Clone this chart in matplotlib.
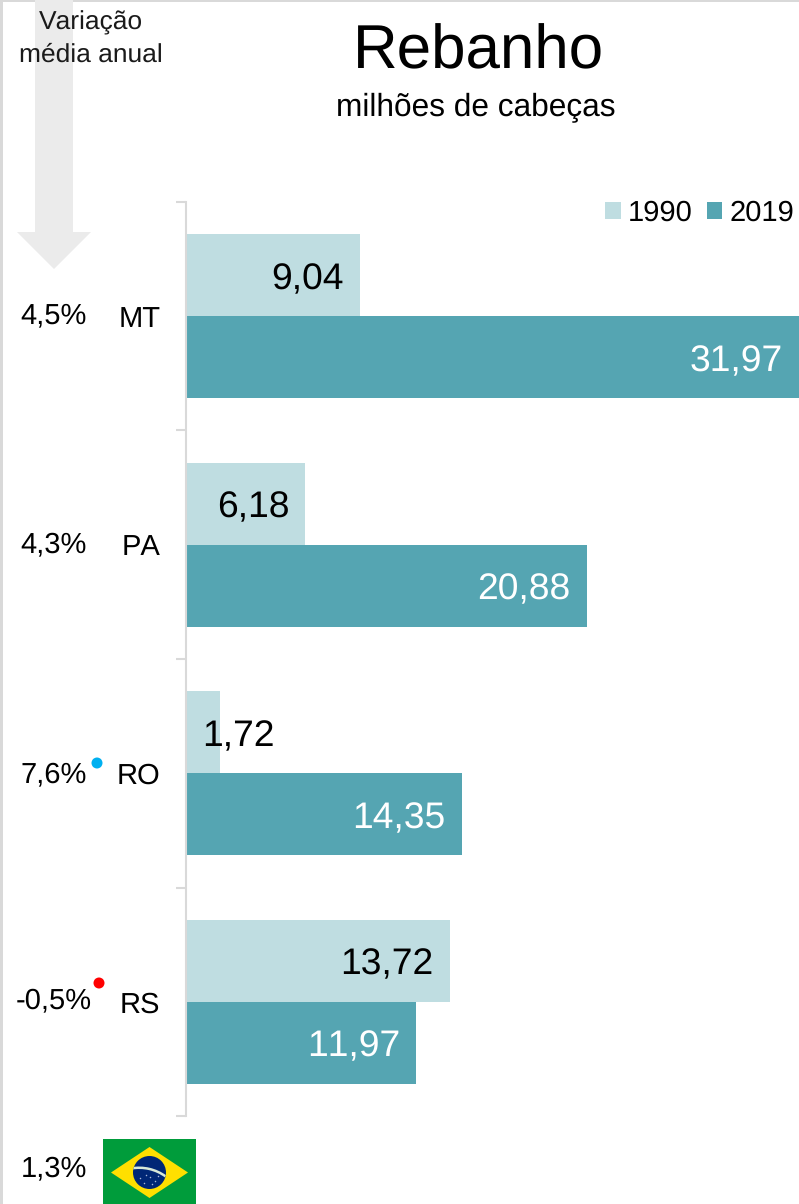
import numpy as np
import matplotlib
matplotlib.use('Agg')
import matplotlib.pyplot as plt
from matplotlib.patches import Circle, Polygon, Rectangle, Wedge

plt.rcParams['font.family'] = ['Liberation Sans', 'DejaVu Sans']
plt.rcParams['text.kerning_factor'] = 16   # sem kerning, como no original
plt.rcParams['text.hinting'] = 'no_hinting'

W, H = 799, 1204

states = ['MT', 'PA', 'RO', 'RS']
v1990 = [9.04, 6.18, 1.72, 13.72]
v2019 = [31.97, 20.88, 14.35, 11.97]
growth = ['4,5%', '4,3%', '7,6%', '-0,5%']
growth_y = [316, 545, 775, 1001]
brasil = '1,3%'
years = ['1990', '2019']

c1990 = '#BFDDE1'
c2019 = '#55A5B2'
cgrey = '#D9D9D9'
carrow = '#EBEBEB'


def br(x):
    return ('%.2f' % x).replace('.', ',')


fig = plt.figure(figsize=(W / 100, H / 100), dpi=100)

# camada em pixels para tudo que fica fora do grafico
bg = fig.add_axes([0, 0, 1, 1])
bg.set_xlim(0, W)
bg.set_ylim(H, 0)
bg.axis('off')
bg.add_patch(Rectangle((0, 0), 3, H, color=cgrey, lw=0))
bg.add_patch(Rectangle((0, 0), W, 2, color=cgrey, lw=0))
bg.add_patch(Polygon([(35, 0), (73, 0), (73, 232), (91, 232), (54, 269), (17, 232), (35, 232)],
                     color=carrow, lw=0))

ax = fig.add_axes([187 / W, 1 - 1116 / H, 612 / W, 914 / H])
ax.patch.set_alpha(0)
y = np.arange(len(states))
h = 82 / 228.5
b1 = ax.barh(y - h / 2, v1990, h, color=c1990, label=years[0])
b2 = ax.barh(y + h / 2, v2019, h, color=c2019, label=years[1])
ax.set_xlim(0, 31.97)
ax.set_ylim(3.5, -0.5)
ax.xaxis.set_visible(False)
for s in ['top', 'right', 'bottom']:
    ax.spines[s].set_visible(False)
ax.spines['left'].set_color(cgrey)
ax.spines['left'].set_linewidth(1.5)
ax.spines['left'].set_position(('outward', 0.7))
ax.set_yticks(np.arange(-0.5, 4, 1))
ax.set_yticklabels([])
ax.tick_params(axis='y', which='major', length=7, width=1.5, color=cgrey)
ax.set_yticks(y, minor=True)
ax.set_yticklabels(states, minor=True, fontsize=21, color='black')
ax.tick_params(axis='y', which='minor', length=0, pad=18.5)

for i in y:
    off = 55 if v1990[i] < 3 else -16
    ax.annotate(br(v1990[i]), (v1990[i], i - h / 2), xytext=(off * 0.72, -3), textcoords='offset points',
                ha='right', va='center', fontsize=26.8, color='black', annotation_clip=False)
    ax.annotate(br(v2019[i]), (v2019[i], i + h / 2), xytext=(-16 * 0.72, -3), textcoords='offset points',
                ha='right', va='center', fontsize=26.8, color='white', annotation_clip=False)

ax.legend(handles=[b1, b2], loc='upper right', bbox_to_anchor=(1 - 5 / 612, 1 - (200 - 202) / 914),
          ncol=2, frameon=False, fontsize=21, handlelength=0.52, handleheight=0.55,
          handletextpad=0.24, columnspacing=0.5, borderpad=0, borderaxespad=0)

top = fig.add_axes([0, 0, 1, 1])
top.set_xlim(0, W)
top.set_ylim(H, 0)
top.axis('off')
top.patch.set_alpha(0)
top.text(478, 52, 'Rebanho', ha='center', va='center', fontsize=44.6)
top.text(476, 107, 'milhões de cabeças', ha='center', va='center', fontsize=22.8)
top.text(91, 39, 'Variação\nmédia anual', ha='center', va='center', fontsize=19, color='#1a1a1a', linespacing=1.38)

for g, gy in zip(growth, growth_y):
    top.text(53.5, gy, g, ha='center', va='center', fontsize=21)
top.text(53.5, 1169, brasil, ha='center', va='center', fontsize=21)
top.add_patch(Circle((97, 763), 5.5, color='#00B0F0', lw=0))
top.add_patch(Circle((99, 983), 5.5, color='#FF0000', lw=0))

# bandeira
top.add_patch(Rectangle((103, 1139), 93, 65, color='#009C3B', lw=0))
top.add_patch(Polygon([(111, 1172.5), (149.5, 1147), (188, 1172.5), (149.5, 1198)], color='#FFDF00', lw=0))
globe = Circle((149.5, 1172.5), 16.5, color='#002776', lw=0)
top.add_patch(globe)
band = Wedge((139, 1213), 46.5, 260, 306, width=2.5, color='#D8E8D8', lw=0)
top.add_patch(band)
band.set_clip_path(globe)
top.scatter([140, 146, 150, 155, 158, 144, 152], [1178, 1175, 1177, 1181, 1176, 1183, 1184],
            s=1.2, color='#AAB8D8', lw=0)

fig.savefig('out.png', dpi=100)
